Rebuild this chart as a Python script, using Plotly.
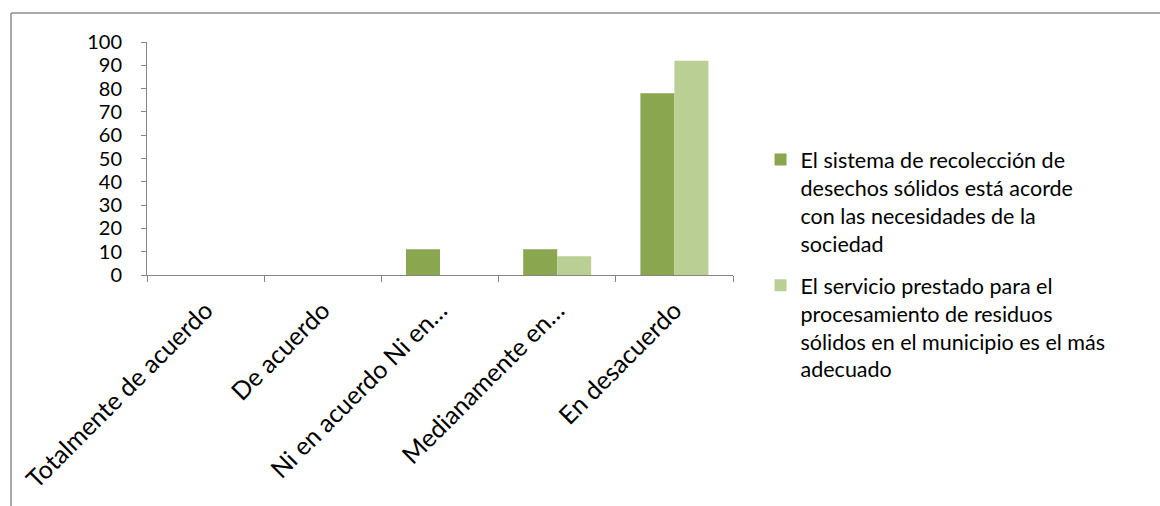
import plotly.graph_objects as go

categories = ["Totalmente de acuerdo", "De acuerdo", "Ni en acuerdo Ni en…",
              "Medianamente en…", "En desacuerdo"]
series1_name = "El sistema de recolección de<br>desechos sólidos está acorde<br>con las necesidades de la<br>sociedad"
series2_name = "El servicio prestado para el<br>procesamiento de residuos<br>sólidos en el municipio es el más<br>adecuado"
series1 = [0, 0, 11, 11, 78]
series2 = [0, 0, 0, 8, 92]

FONT = "Lato"
fig = go.Figure()
fig.add_trace(go.Bar(x=categories, y=series1, name=series1_name,
                     marker=dict(color="#8AA64F", line=dict(width=0)),
                     legendgroup="a"))
fig.add_trace(go.Bar(x=categories, y=series2, name=series2_name,
                     marker=dict(color="#BACF94", line=dict(width=0)),
                     legendgroup="b"))

W, H = 1160, 506
L, R, T, B = 147, 733, 42, 275
pw, ph = R - L, B - T

def px(x):
    return (x - L) / pw

def py(y):
    return (B - y) / ph

fig.update_layout(
    width=W, height=H,
    margin=dict(l=L, r=W - R, t=T, b=H - B, autoexpand=False),
    paper_bgcolor="white", plot_bgcolor="white",
    barmode="group", bargap=0.42, bargroupgap=0,
    font=dict(family=FONT, color="black", size=20),
    legend=dict(x=1.047, y=py(139),
                xanchor="left", yanchor="top",
                font=dict(family=FONT, size=21.5, color="black"),
                traceorder="grouped", tracegroupgap=11, valign="top",
                maxheight=460,
                bgcolor="rgba(0,0,0,0)"),
    showlegend=True,
    xaxis=dict(showline=True, linecolor="#868686", linewidth=1,
               ticks="outside", tickson="boundaries", ticklen=6,
               tickcolor="#868686", tickangle=-45,
               tickfont=dict(family=FONT, size=25, color="black"),
               ticklabelstandoff=10,
               showgrid=False, zeroline=False),
    yaxis=dict(range=[0, 100], dtick=10, showline=True, linecolor="#868686",
               linewidth=1, ticks="outside", ticklen=5, tickcolor="#868686",
               tickfont=dict(family=FONT, size=20, color="black"),
               ticklabelstandoff=15,
               showgrid=False, zeroline=False),
    shapes=[
        dict(type="line", xref="paper", yref="paper",
             x0=px(11), x1=px(11), y0=py(13), y1=py(520),
             line=dict(color="#8C8C8C", width=1.5)),
        dict(type="line", xref="paper", yref="paper",
             x0=px(11), x1=px(1170), y0=py(13), y1=py(13),
             line=dict(color="#8C8C8C", width=1.5)),
    ],
)

fig.write_html("out.html")
